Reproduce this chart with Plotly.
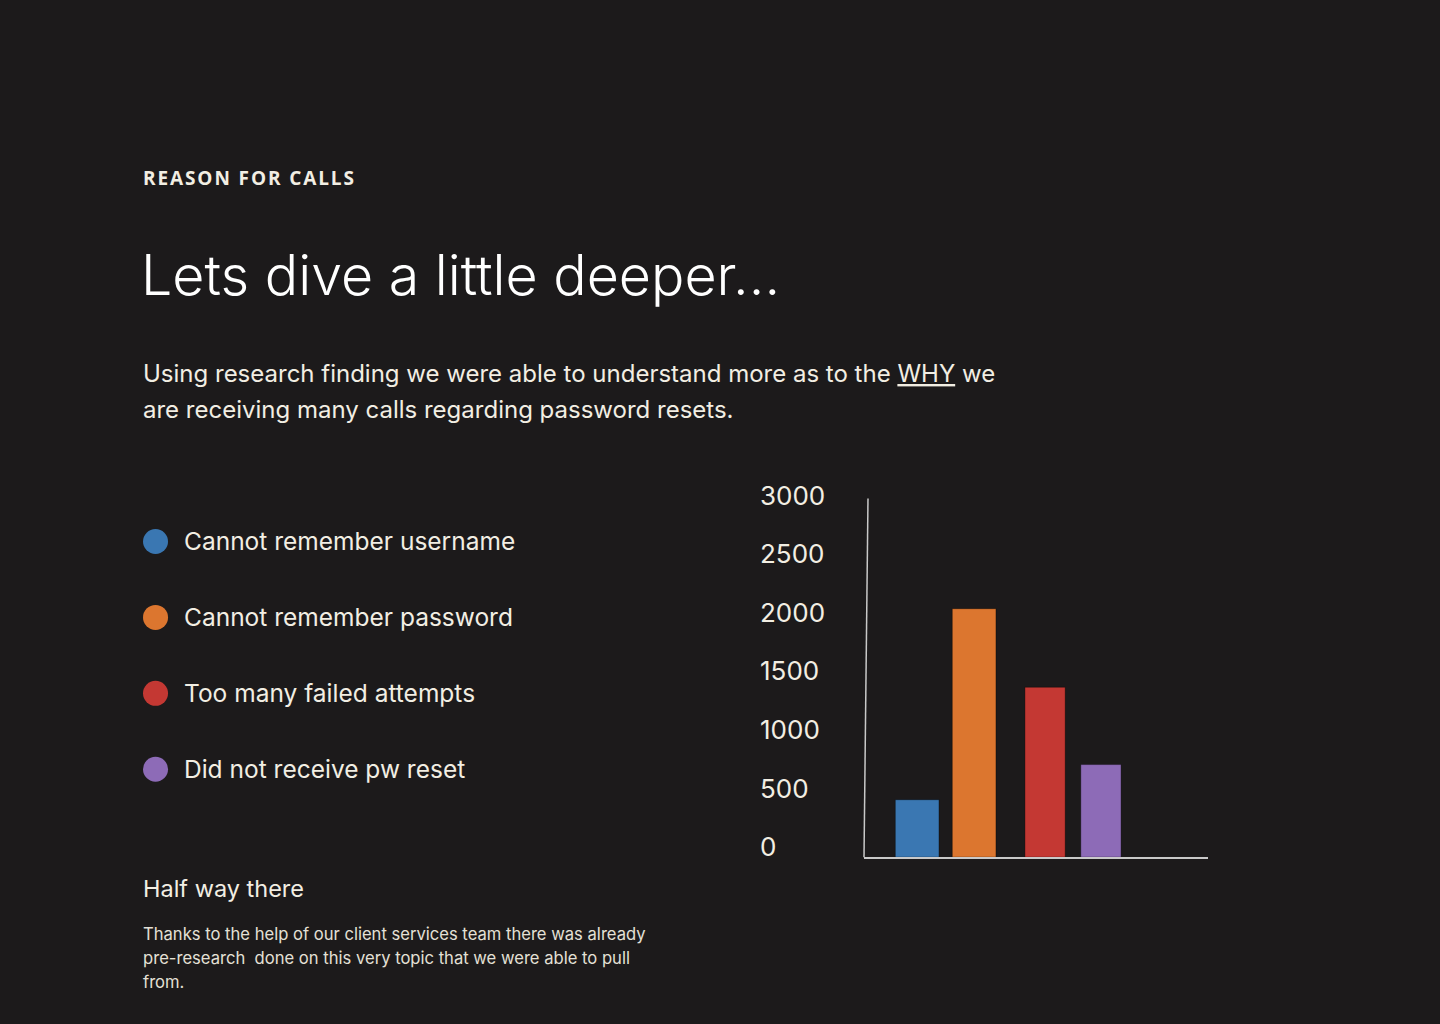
import plotly.graph_objects as go

# Data
reasons = ["Cannot remember username", "Cannot remember password",
           "Too many failed attempts", "Did not receive pw reset"]
calls = [490, 2120, 1450, 790]
colors = ["#3a77b2", "#dc762f", "#c43833", "#8d6bb7"]
tick_vals = [0, 500, 1000, 1500, 2000, 2500, 3000]

BG = "#1c1a1b"
CREAM = "#f2eee3"
FONT = "Inter"
W, H = 1440, 1024
H_EFF = 1001  # the page ends up drawn about this tall, so place things against it


def px(x):
    return x / W


def py(y):
    return 1 - y / H_EFF


fig = go.Figure()

# bars (slightly uneven spacing like the original slide)
fig.add_trace(go.Bar(
    x=reasons, y=calls,
    marker=dict(color=colors, line=dict(color="rgba(0,0,0,0.35)", width=1)),
    width=[0.713, 0.713, 0.657, 0.657],
    offset=[-0.354, -0.424, -0.238, -0.326],
    hoverinfo="x+y", showlegend=False,
))

# custom legend dots on the left
fig.add_trace(go.Scatter(
    x=[0] * len(reasons), y=reasons, xaxis="x2", yaxis="y2",
    mode="markers", marker=dict(color=colors, size=25),
    hoverinfo="skip", showlegend=False,
))

annotations = []


def note(text, x, y, size, color=CREAM, weight=400, yref="paper", family=FONT):
    annotations.append(dict(
        text=text, x=px(x), y=py(y) if yref == "paper" else y,
        xref="paper", yref=yref, xanchor="left", yanchor="middle",
        showarrow=False, font=dict(family=family, size=size, color=color, weight=weight),
    ))


label = "&#8202;".join("REASON FOR CALLS").replace(" ", "&nbsp;")
note(label, 141, 159, 19, weight=700, family="Open Sans")
note("Lets dive a little deeper...", 139, 256, 55.5, color="#ffffff", weight=300)
note("Using research finding we were able to understand more as to the <u>WHY</u> we", 141, 355, 24)
note("are receiving many calls regarding password resets.", 141, 391, 24)
note("Half way there", 141, 870, 23.5)
note("Thanks to the help of our client services team there was already", 141, 916, 16.6, color="#e4e0d6")
note("pre-research  done on this very topic that we were able to pull", 141, 940, 16.6, color="#e4e0d6")
note("from.", 141, 964, 16.6, color="#e4e0d6")

for r in reasons:
    note(r, 182, r, 24.5, yref="y2")

fig.update_layout(
    width=W, height=H,
    margin=dict(l=0, r=0, t=0, b=0),
    paper_bgcolor=BG, plot_bgcolor=BG,
    font=dict(family=FONT, color=CREAM),
    annotations=annotations,
    xaxis=dict(
        domain=[px(864), px(1208)], range=[-0.865, 4.75],
        showline=True, linecolor="#c9c9c9", linewidth=1.5,
        showgrid=False, zeroline=False, showticklabels=False, ticks="",
        anchor="y",
    ),
    yaxis=dict(
        domain=[py(839), py(480)], range=[0, 3060],
        tickvals=tick_vals, side="right", anchor="free", position=px(759),
        showline=False, showgrid=False, zeroline=False, ticks="",
        ticklabelshift=-10,
        tickfont=dict(family=FONT, size=26, color=CREAM),
    ),
    xaxis2=dict(
        domain=[px(143), px(700)], range=[-0.023, 1],
        visible=False, anchor="y2",
    ),
    yaxis2=dict(
        domain=[py(789), py(485)], range=[3.5, -0.5],
        visible=False, anchor="x2",
    ),
    shapes=[dict(
        type="line", xref="x domain", yref="y domain",
        x0=0.0116, y0=1, x1=0, y1=0,
        line=dict(color="#c9c9c9", width=1.5),
    )],
)

page_css = (
    "var s=document.createElement('style');"
    "s.innerHTML='html,body{margin:0;padding:0;overflow:hidden;background:%s;}';"
    "document.head.appendChild(s);" % BG
)
fig.write_html("out.html", config={"displayModeBar": False}, post_script=page_css)
